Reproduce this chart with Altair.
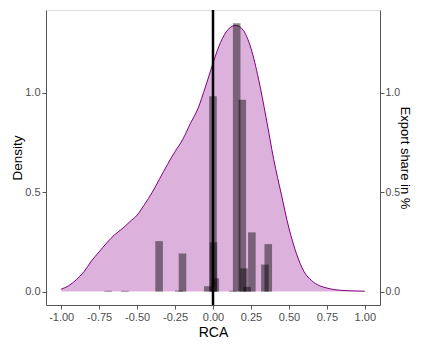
import altair as alt
import pandas as pd

# Density curve of RCA
rca_grid = [-1.0, -0.95, -0.9, -0.85, -0.8, -0.75, -0.7, -0.65, -0.6, -0.55,
            -0.5, -0.45, -0.4, -0.35, -0.3, -0.25, -0.2, -0.15, -0.1, -0.05,
            0.0, 0.05, 0.1, 0.15, 0.2, 0.25, 0.3, 0.35, 0.4, 0.45,
            0.5, 0.55, 0.6, 0.65, 0.7, 0.75, 0.8, 0.85, 0.9, 0.95, 1.0]
density = [0.012, 0.03, 0.06, 0.1, 0.155, 0.2, 0.245, 0.285, 0.315, 0.35,
           0.385, 0.44, 0.5, 0.57, 0.64, 0.705, 0.765, 0.845, 0.92, 1.03,
           1.15, 1.255, 1.32, 1.34, 1.315, 1.225, 1.07, 0.875, 0.665, 0.49,
           0.32, 0.19, 0.1, 0.055, 0.03, 0.018, 0.01, 0.006, 0.004, 0.003, 0.002]

# Export share bars
bar_rca = [-0.69, -0.58, -0.355, -0.225, -0.201, -0.034, 0.0, 0.003, 0.015,
           0.13, 0.156, 0.193, 0.204, 0.225, 0.256, 0.342, 0.364]
bar_share = [0.004, 0.004, 0.254, 0.005, 0.192, 0.027, 0.983, 0.248, 0.067,
             0.004, 1.351, 0.966, 0.117, 0.024, 0.298, 0.136, 0.239]

x_ticks = [-1.0, -0.75, -0.5, -0.25, 0.0, 0.25, 0.5, 0.75, 1.0]
y_ticks = [0.0, 0.5, 1.0]

dens_df = pd.DataFrame({"RCA": rca_grid, "Density": density})
bar_df = pd.DataFrame({"RCA": bar_rca, "Share": bar_share})
vline_df = pd.DataFrame({"RCA": [0.0]})

FONT = "Liberation Sans"
x_scale = alt.Scale(domain=[-1.1, 1.1], nice=False, zero=False)
y_scale = alt.Scale(domain=[-0.0675, 1.4175], nice=False, zero=False)

common_axis = dict(
    domainColor="#555555", tickColor="#555555", labelColor="#4D4D4D",
    labelFontSize=11, titleFontSize=14, titleColor="#000000", titleFontWeight="normal",
    labelFont=FONT, titleFont=FONT, grid=False, tickSize=4, labelPadding=2,
    domainWidth=1, tickWidth=1,
)

x_enc = alt.X(
    "RCA:Q", scale=x_scale, title="RCA",
    axis=alt.Axis(values=x_ticks,
                  labelExpr="replace(format(datum.value, '.2f'), '−', '-')",
                  titlePadding=3, **common_axis),
)

left_axis = dict(common_axis)
left_axis["titleFontSize"] = 13.5

area = alt.Chart(dens_df).mark_area(
    color="#8B008B", opacity=0.3, interpolate="monotone"
).encode(
    x=x_enc,
    y=alt.Y("Density:Q", scale=y_scale, title="Density",
            axis=alt.Axis(values=y_ticks, format=".1f", titlePadding=0, **left_axis)),
)

line = alt.Chart(dens_df).mark_line(
    color="#800080", strokeWidth=1, interpolate="monotone"
).encode(
    x=alt.X("RCA:Q", scale=x_scale),
    y=alt.Y("Density:Q", scale=y_scale),
)

right_axis = dict(common_axis)
right_axis["titleFontSize"] = 13
right_axis["labelFontSize"] = 10.5
right_axis["labelPadding"] = 1

bars = alt.Chart(bar_df).transform_calculate(
    x1="datum.RCA - 0.025", x2="datum.RCA + 0.025", y0="0"
).mark_rect(color="#000000", opacity=0.45).encode(
    x=alt.X("x1:Q", scale=x_scale),
    x2="x2:Q",
    y=alt.Y("Share:Q", scale=y_scale, title="Export share in %",
            axis=alt.Axis(orient="right", values=y_ticks, format=".1f",
                          titlePadding=-2, **right_axis)),
    y2="y0:Q",
)

vline = alt.Chart(vline_df).mark_rule(color="#000000", strokeWidth=2.5).encode(
    x=alt.X("RCA:Q", scale=x_scale)
)

left = alt.layer(area, line)
right = alt.layer(bars, vline)

chart = alt.layer(left, right).resolve_scale(y="independent").properties(
    width=334, height=295,
    autosize=alt.AutoSizeParams(type="none"),
    padding={"left": 38, "top": 2, "right": 34, "bottom": 36},
).configure_view(stroke=None).configure(font=FONT)

chart.save("out.html", embed_options={"renderer": "svg", "actions": False})
